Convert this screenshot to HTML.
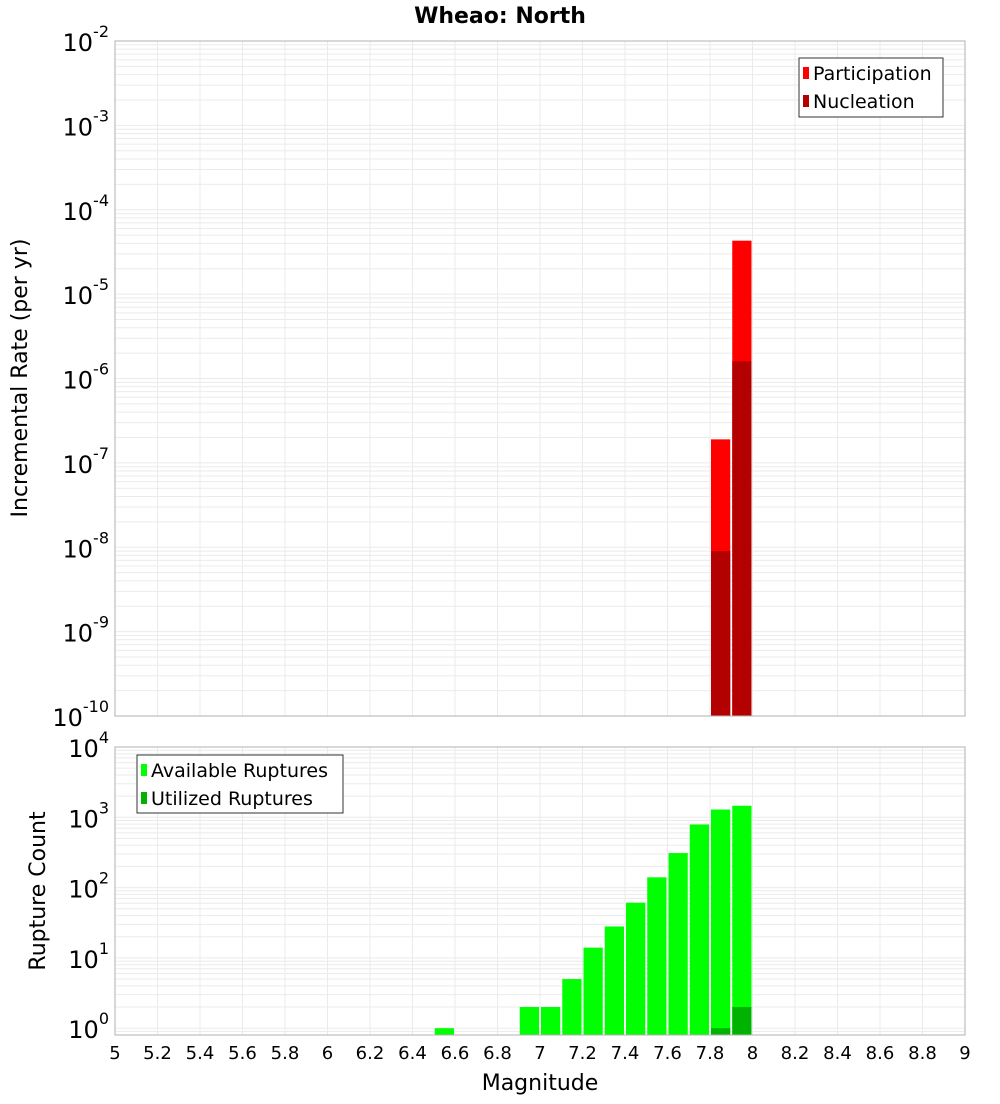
<!DOCTYPE html>
<html><head><meta charset="utf-8"><style>
body{margin:0;background:#fff;font-family:"DejaVu Sans","Liberation Sans",sans-serif;}
svg text{font-family:"DejaVu Sans","Liberation Sans",sans-serif;}
</style></head><body>
<svg id="chart" width="1000" height="1100" xmlns="http://www.w3.org/2000/svg"></svg>
<script>
const xTicks=[5,5.2,5.4,5.6,5.8,6,6.2,6.4,6.6,6.8,7,7.2,7.4,7.6,7.8,8,8.2,8.4,8.6,8.8,9];
const xTickLabels=["5","5.2","5.4","5.6","5.8","6","6.2","6.4","6.6","6.8","7","7.2","7.4","7.6","7.8","8","8.2","8.4","8.6","8.8","9"];
const rateMags=[7.85,7.95];
const participation=[1.9e-7,4.3e-5];
const nucleation=[9e-9,1.6e-6];
const countMags=[6.55,6.95,7.05,7.15,7.25,7.35,7.45,7.55,7.65,7.75,7.85,7.95];
const available=[1,2,2,5,14,28,61,140,310,790,1290,1460];
const utilizedMags=[7.85,7.95];
const utilized=[1,2];
const topExps=[-2,-3,-4,-5,-6,-7,-8,-9,-10];
const botExps=[4,3,2,1,0];

const NS="http://www.w3.org/2000/svg";
const svg=document.getElementById('chart');
function el(t,a,p){const e=document.createElementNS(NS,t);for(const k in a)e.setAttribute(k,a[k]);(p||svg).appendChild(e);return e;}
const X0=115,X1=965;
const xs=m=>X0+(m-5)/(9-5)*(X1-X0);
const T={y0:41,y1:716,lmin:-10,lmax:-2};
const B={y0:747,y1:1035,lmin:Math.log10(0.8),lmax:4};
const ys=(P,v)=>P.y1-(Math.log10(v)-P.lmin)/(P.lmax-P.lmin)*(P.y1-P.y0);

function panel(P,name){
  const g=el('g',{},svg);
  
  
  el('rect',{x:X0,y:P.y0,width:X1-X0,height:P.y1-P.y0,fill:'#fff'},g);
  for(let d=Math.floor(P.lmin);d<P.lmax;d++){for(let k=1;k<10;k++){const v=k*Math.pow(10,d);const lv=Math.log10(v);if(lv<P.lmin-1e-9||lv>P.lmax+1e-9)continue;const y=ys(P,v);
    const l=el('line',{x1:X0,x2:X1,y1:y,y2:y,stroke:'#ebebeb','stroke-width':1},g);}}
  xTicks.forEach(t=>{const x=xs(t);const l=el('line',{x1:x,x2:x,y1:P.y0,y2:P.y1,stroke:'#ebebeb','stroke-width':1},g);});
  return g;
}
const gt=panel(T,'rate-plot');
const gb=panel(B,'count-plot');
const bw=(X1-X0)/40;
function bar(g,P,m,v,col,name){
  const y=ys(P,v);
  const r=el('rect',{x:xs(m)-bw/2+1,y:y,width:bw-2,height:P.y1-y,fill:col},g);
  
  
}
rateMags.forEach((m,i)=>bar(gt,T,m,participation[i],'#ff0000','participation-bar'));
rateMags.forEach((m,i)=>bar(gt,T,m,nucleation[i],'#b30000','nucleation-bar'));
countMags.forEach((m,i)=>bar(gb,B,m,available[i],'#00ff00','available-bar'));
utilizedMags.forEach((m,i)=>bar(gb,B,m,utilized[i],'#00b300','utilized-bar'));
[T,B].forEach(P=>el('rect',{x:X0,y:P.y0,width:X1-X0,height:P.y1-P.y0,fill:'none',stroke:'#b0b0b0','stroke-width':1}));

function ylab(P,e){
  const y=ys(P,Math.pow(10,e));
  const t=el('text',{x:104,y:y+10,'text-anchor':'end','font-size':24,fill:'#000'});
  
  t.textContent='10';
  const s=el('tspan',{dy:-14,'font-size':16},t);s.textContent=String(e);
  t.setAttribute('text-anchor','start');
  const w=t.getComputedTextLength?t.getComputedTextLength():40;
  t.setAttribute('x',X0-6-w);
}
topExps.forEach(e=>ylab(T,e));
botExps.forEach(e=>ylab(B,e));
xTicks.forEach((t,i)=>{const tx=el('text',{x:xs(t),y:1059,'text-anchor':'middle','font-size':18,fill:'#000'});
  tx.textContent=xTickLabels[i];});

function txt(a,s,name){const t=el('text',a);t.textContent=s;return t;}
txt({x:500,y:23,'text-anchor':'middle','font-size':22,'font-weight':'bold'},'Wheao: North','chart-title');
txt({x:540,y:1090,'text-anchor':'middle','font-size':22},'Magnitude','x-axis-title');
txt({x:27,y:378,'text-anchor':'middle','font-size':22,transform:'rotate(-90 27 378)'},'Incremental Rate (per yr)','top-y-axis-title');
txt({x:45,y:891,'text-anchor':'middle','font-size':22,transform:'rotate(-90 45 891)'},'Rupture Count','bottom-y-axis-title');

function legend(x,y,w,h,items,name){
  const g=el('g',{});
  el('rect',{x:x,y:y,width:w,height:h,fill:'#fff',stroke:'#333','stroke-width':1},g);
  items.forEach((it,i)=>{const cy=y+15+i*28;
    const s=el('rect',{x:x+4,y:cy-6,width:6,height:12,fill:it[1]},g);
    const t=el('text',{x:x+14,y:cy+7,'font-size':19},g);t.textContent=it[0];});
}
legend(799,58,144,59,[['Participation','#ff0000'],['Nucleation','#b30000']],'rate-legend');
legend(137,755,206,58,[['Available Ruptures','#00ff00'],['Utilized Ruptures','#00b300']],'count-legend');
</script>
</body></html>
